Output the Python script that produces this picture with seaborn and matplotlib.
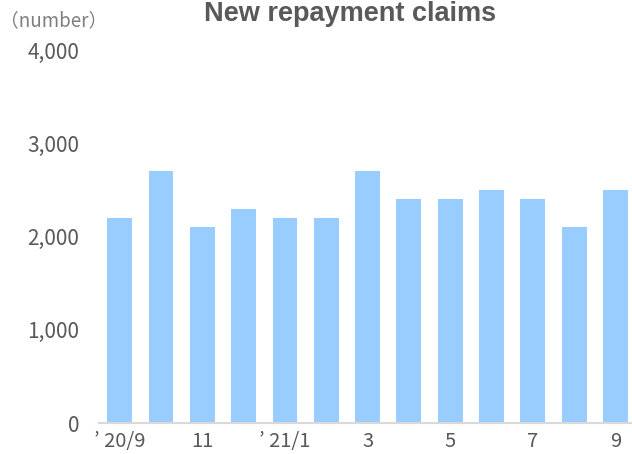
import matplotlib
matplotlib.use("Agg")
import matplotlib.pyplot as plt
import seaborn as sns
import pandas as pd

months = ["’20/9", "10", "11", "12", "’21/1", "2", "3", "4", "5", "6", "7", "8", "9"]
claims = [2200, 2700, 2100, 2300, 2200, 2200, 2700, 2400, 2400, 2500, 2400, 2100, 2500]
shown_labels = ["’ 20/9", "", "11", "", "’ 21/1", "", "3", "", "5", "", "7", "", "9"]
y_ticks = [0, 1000, 2000, 3000, 4000]
y_labels = ["0", "1,000", "2,000", "3,000", "4,000"]
title = "New repayment claims"
unit = "（number）"

sns.set_theme(style="white")
plt.rcParams["font.family"] = ["Noto Sans CJK JP", "DejaVu Sans"]

df = pd.DataFrame({"month": months, "claims": claims})

fig = plt.figure(figsize=(6.32, 4.54), dpi=100)
ax = fig.add_axes([99 / 632, 1 - 423 / 454, 1 - 99 / 632, (423 - 50) / 454])

sns.barplot(data=df, x="month", y="claims", order=months, color="#99CCFF",
            saturation=1, width=0.6, ax=ax, edgecolor="none")

ax.set_xlim(-0.5, 12.4)
ax.set_ylim(0, 4000)
ax.set_yticks(y_ticks)
ax.set_yticklabels(y_labels)
ax.set_xticks(range(len(months)))
ax.set_xticklabels(shown_labels)
ax.set_xlabel("")
ax.set_ylabel("")

for s in ["top", "right", "left"]:
    ax.spines[s].set_visible(False)
ax.spines["bottom"].set_color("#D9D9D9")
ax.spines["bottom"].set_linewidth(1.5)

ax.tick_params(axis="y", length=0, pad=14, labelsize=15, labelcolor="#595959")
ax.tick_params(axis="x", length=0, pad=6, labelsize=14.5, labelcolor="#595959")

fig.text(350 / 632, 1 - 21 / 454, title, ha="center", va="baseline",
         fontsize=19.5, fontweight="bold", color="#595959",
         family=["Liberation Sans", "DejaVu Sans"])
fig.text(54 / 632, 1 - 21 / 454, unit, ha="center", va="center",
         fontsize=13.5, color="#7F7F7F")

fig.savefig("out.png", dpi=100)
